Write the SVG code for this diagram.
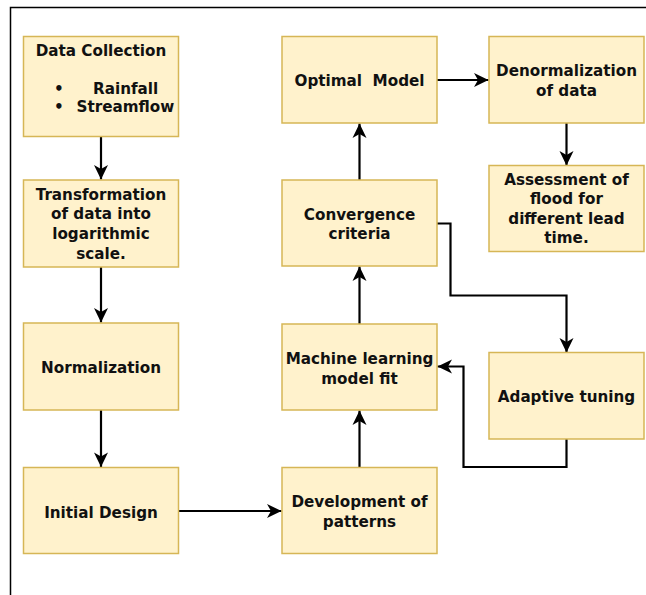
<svg xmlns="http://www.w3.org/2000/svg" width="646" height="595" viewBox="0 0 646 595">
<style>
.box{fill:#fff2cc;stroke:#d6b656;stroke-width:1.5}
.t{font-family:"DejaVu Sans",Verdana,sans-serif;font-weight:bold;font-size:15.2px;fill:#111;text-anchor:middle}
.ts{font-family:"DejaVu Sans",Verdana,sans-serif;font-weight:bold;font-size:15.2px;fill:#111}
.c{fill:none;stroke:#000;stroke-width:2.2}
</style>
<defs>
<marker id="ah" markerUnits="userSpaceOnUse" markerWidth="18" markerHeight="18" refX="15.5" refY="8" orient="auto">
<path d="M1,1 L15.5,8 L1,15 L5,8 Z" fill="#000"/>
</marker>
</defs>
<rect width="646" height="595" fill="#fff"/>
<path d="M10.5,595 L10.5,7.5 L646,7.5" fill="none" stroke="#000" stroke-width="1.5"/>

<g id="connectors">
<path class="c" d="M101,137 L101,179.5" marker-end="url(#ah)"/>
<path class="c" d="M101,267 L101,322.5" marker-end="url(#ah)"/>
<path class="c" d="M101,410 L101,467" marker-end="url(#ah)"/>
<path class="c" d="M179,511 L281.5,511" marker-end="url(#ah)"/>
<path class="c" d="M359.5,467.5 L359.5,410.5" marker-end="url(#ah)"/>
<path class="c" d="M359.5,324 L359.5,266.5" marker-end="url(#ah)"/>
<path class="c" d="M359.5,180 L359.5,123.5" marker-end="url(#ah)"/>
<path class="c" d="M437,80 L488.5,80" marker-end="url(#ah)"/>
<path class="c" d="M566.5,123 L566.5,165.5" marker-end="url(#ah)"/>
<path class="c" d="M437,223.5 L450.5,223.5 L450.5,295.5 L566.5,295.5 L566.5,352.5" marker-end="url(#ah)"/>
<path class="c" d="M566.5,439 L566.5,467 L463.5,467 L463.5,366.5 L437.5,366.5" marker-end="url(#ah)"/>
</g>

<g id="data-collection">
<rect class="box" x="23.5" y="36.5" width="155" height="100"/>
<text class="t" x="101" y="56">Data Collection</text>
<text class="ts" x="54" y="93.5">•</text>
<text class="ts" x="93" y="93.5">Rainfall</text>
<text class="ts" x="54" y="111.5">•</text>
<text class="ts" x="76.5" y="111.5">Streamflow</text>
</g>

<g id="transformation">
<rect class="box" x="23.5" y="180" width="155" height="87"/>
<text class="t" x="101" y="199.5">Transformation</text>
<text class="t" x="101" y="219.3">of data into</text>
<text class="t" x="101" y="239.2">logarithmic</text>
<text class="t" x="101" y="259">scale.</text>
</g>

<g id="normalization">
<rect class="box" x="23.5" y="323" width="155" height="87"/>
<text class="t" x="101" y="373">Normalization</text>
</g>

<g id="initial-design">
<rect class="box" x="23.5" y="467.5" width="155" height="86"/>
<text class="t" x="101" y="518">Initial Design</text>
</g>

<g id="development">
<rect class="box" x="282" y="467.5" width="155" height="86"/>
<text class="t" x="359.5" y="507">Development of</text>
<text class="t" x="359.5" y="526.5">patterns</text>
</g>

<g id="ml-fit">
<rect class="box" x="282" y="324" width="155" height="86"/>
<text class="t" x="359.5" y="364">Machine learning</text>
<text class="t" x="359.5" y="383.5">model fit</text>
</g>

<g id="convergence">
<rect class="box" x="282" y="180" width="155" height="86"/>
<text class="t" x="359.5" y="219.5">Convergence</text>
<text class="t" x="359.5" y="239">criteria</text>
</g>

<g id="optimal-model">
<rect class="box" x="282" y="36.5" width="155" height="86.5"/>
<text class="t" x="359.5" y="86" xml:space="preserve">Optimal  Model</text>
</g>

<g id="denormalization">
<rect class="box" x="489" y="36.5" width="155" height="86.5"/>
<text class="t" x="566.5" y="76">Denormalization</text>
<text class="t" x="566.5" y="95.5">of data</text>
</g>

<g id="assessment">
<rect class="box" x="489" y="165.5" width="155" height="86"/>
<text class="t" x="566.5" y="185">Assessment of</text>
<text class="t" x="566.5" y="204.4">flood for</text>
<text class="t" x="566.5" y="223.8">different lead</text>
<text class="t" x="566.5" y="243.2">time.</text>
</g>

<g id="adaptive-tuning">
<rect class="box" x="489" y="352.5" width="155" height="86.5"/>
<text class="t" x="566.5" y="402">Adaptive tuning</text>
</g>
</svg>
